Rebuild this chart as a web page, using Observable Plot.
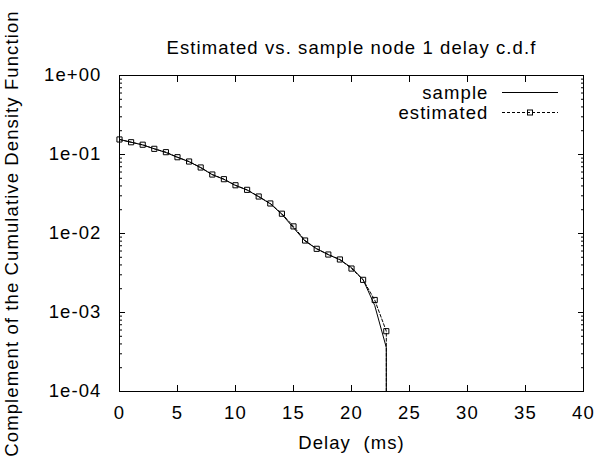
<!DOCTYPE html>
<html><head><meta charset="utf-8">
<script src="https://cdn.jsdelivr.net/npm/d3@7"></script>
<script src="https://cdn.jsdelivr.net/npm/@observablehq/plot@0.6"></script>
<style>
html,body{margin:0;padding:0;background:#fff;}
#wrap{position:relative;width:597px;height:464px;}
#wrap svg text{letter-spacing:1.1px;white-space:pre;}
#legend{position:absolute;left:0;top:0;pointer-events:none;}
</style></head><body><div id="wrap"></div>
<script>
// ---- data ----
const delay = [0,1,2,3,4,5,6,7,8,9,10,11,12,13,14,15,16,17,18,19,20,21,22,23];
const estimated = [0.155,0.143,0.133,0.118,0.107,0.0924,0.0815,0.0685,0.0558,0.0487,0.0408,0.0357,0.0294,0.0240,0.0178,0.0123,0.00815,0.0064,0.00542,0.00469,0.0036,0.00259,0.00144,0.00058];
const sample = [0.155,0.143,0.132,0.118,0.106,0.0920,0.0810,0.0680,0.0555,0.0485,0.0405,0.0355,0.0292,0.0238,0.0175,0.0118,0.0080,0.0064,0.00540,0.00465,0.0037,0.00260,0.00123,0.00036];
const dropValue = 1e-6; // c.c.d.f. falls to 0 after the last delay (below the axis)
const xTicks = [0,5,10,15,20,25,30,35,40];
const yTicks = [1,1e-1,1e-2,1e-3,1e-4];
const yTickLabels = ["1e+00","1e-01","1e-02","1e-03","1e-04"];
const title = "Estimated vs. sample node 1 delay c.d.f";
const xLabel = "Delay  (ms)";
const yLabel = "Complement of the Cumulative Density Function";
const seriesNames = ["sample","estimated"];

// ---- derived tables ----
const estPts = delay.map((d,i)=>({x:d, y:estimated[i]}));
const samplePts = delay.map((d,i)=>({x:d, y:sample[i]}));
const lastDelay = delay[delay.length-1];
const estLine = estPts.concat([{x:lastDelay, y:dropValue}]);
const sampleLine = samplePts.concat([{x:lastDelay, y:dropValue}]);
const yMinor = [];
for (const dec of [1e-4,1e-3,1e-2,1e-1]) for (let m=2;m<=9;m++) yMinor.push(dec*m);

const font = "'Liberation Sans', Arial, Helvetica, sans-serif";
const fs = 18.5;
const blank = () => "";
const T = {fontSize: fs, lineAnchor: "middle"};

const chart = Plot.plot({
  width: 597, height: 464,
  marginTop: 75, marginBottom: 73, marginLeft: 119, marginRight: 14,
  style: {fontFamily: font, fontSize: fs+"px", background: "white", color: "black", overflow: "visible"},
  x: {domain: [0,40]},
  y: {type: "log", domain: [1e-4, 1]},
  marks: [
    Plot.line(sampleLine, {x:"x", y:"y", stroke:"black", strokeWidth:1, clip:true}),
    Plot.line(estLine, {x:"x", y:"y", stroke:"black", strokeWidth:1, strokeDasharray:"3,2", clip:true}),
    Plot.dot(estPts, {x:"x", y:"y", symbol:"square", r:2.9, stroke:"black", fill:"none", strokeWidth:1}),
    Plot.axisX({anchor:"bottom", ticks:xTicks, tickSize:-6, tickFormat:blank, label:null}),
    Plot.axisX({anchor:"top", ticks:xTicks, tickSize:-6, tickFormat:blank, label:null}),
    Plot.axisY({anchor:"left", ticks:yTicks, tickSize:-6, tickFormat:blank, label:null}),
    Plot.axisY({anchor:"right", ticks:yTicks, tickSize:-6, tickFormat:blank, label:null}),
    Plot.axisY({anchor:"left", ticks:yMinor, tickSize:-3, tickFormat:blank, label:null}),
    Plot.axisY({anchor:"right", ticks:yMinor, tickSize:-3, tickFormat:blank, label:null}),
    Plot.frame({stroke:"black", strokeWidth:1}),
    Plot.text(xTicks, {...T, x:d=>d, frameAnchor:"bottom", textAnchor:"middle", dy:21.5, text:d=>String(d)}),
    Plot.text(yTicks, {...T, y:d=>d, frameAnchor:"left", textAnchor:"end", dx:-18, text:(d,i)=>yTickLabels[i]}),
    Plot.text([title], {...T, frameAnchor:"top", textAnchor:"middle", dy:-27}),
    Plot.text([xLabel], {...T, frameAnchor:"bottom", textAnchor:"middle", dy:52}),
    Plot.text([yLabel], {...T, frameAnchor:"left", textAnchor:"middle", rotate:-90, dx:-107}),
    Plot.text([seriesNames[0]], {...T, frameAnchor:"top-right", textAnchor:"end", dx:-95, dy:17.5}),
    Plot.text([seriesNames[1]], {...T, frameAnchor:"top-right", textAnchor:"end", dx:-95, dy:37.5})
  ]
});
const wrap = document.getElementById("wrap");
wrap.appendChild(chart);

// legend swatches (overlay)
const lg = d3.select(wrap).append("svg").attr("id","legend").attr("width",597).attr("height",464);
lg.append("line").attr("x1",502).attr("x2",558).attr("y1",92.5).attr("y2",92.5).attr("stroke","black");
lg.append("line").attr("x1",502).attr("x2",558).attr("y1",112.5).attr("y2",112.5).attr("stroke","black").attr("stroke-dasharray","3,2");
lg.append("rect").attr("x",527.5).attr("y",110).attr("width",5).attr("height",5).attr("fill","none").attr("stroke","black");
</script></body></html>
